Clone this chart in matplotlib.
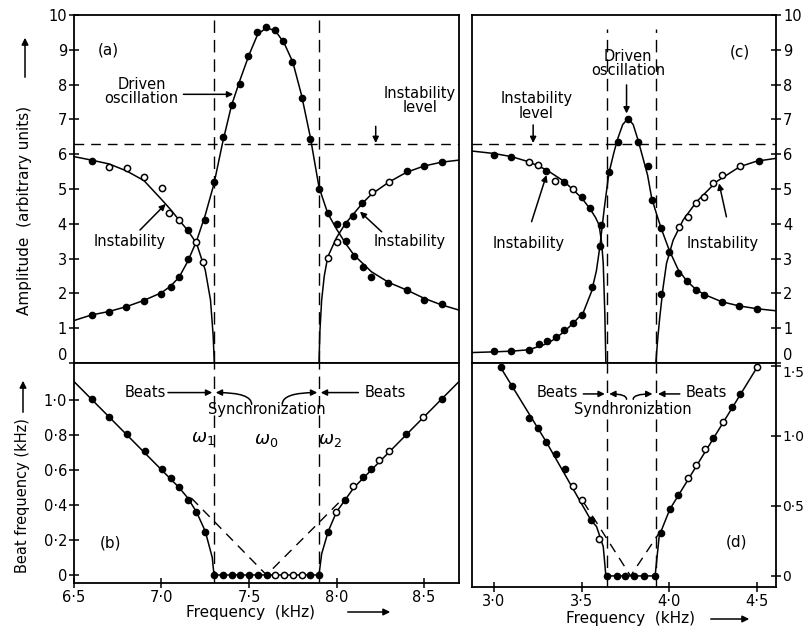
import matplotlib
matplotlib.use('Agg')
import matplotlib.pyplot as plt

plt.rcParams['font.family'] = 'DejaVu Sans'

# ---- panel (a): amplitude vs frequency (kHz) ----
a_drv_x = [6.605, 6.7, 6.8, 6.9, 7.0, 7.052, 7.098, 7.151, 7.249, 7.3, 7.35, 7.401, 7.449,
           7.496, 7.548, 7.595, 7.65, 7.696, 7.746, 7.801, 7.85, 7.902, 7.95, 8.0, 8.054,
           8.1, 8.15, 8.197, 8.296, 8.401, 8.5, 8.605]
a_drv_y = [1.38, 1.47, 1.60, 1.79, 1.98, 2.19, 2.48, 2.99, 4.11, 5.21, 6.49, 7.41, 8.02,
           8.83, 9.52, 9.65, 9.57, 9.25, 8.65, 7.62, 6.43, 5.01, 4.30, 4.0, 3.51,
           3.07, 2.77, 2.48, 2.29, 2.10, 1.81, 1.70]
a_insl_x = [6.605, 6.7, 6.805, 6.9, 7.003, 7.045, 7.1, 7.151, 7.2, 7.239]
a_insl_y = [5.81, 5.64, 5.61, 5.33, 5.02, 4.32, 4.11, 3.81, 3.49, 2.89]
a_insl_open = [False, True, True, True, True, True, True, False, True, True]
a_insr_x = [7.95, 8.005, 8.052, 8.096, 8.148, 8.2, 8.3, 8.405, 8.502, 8.605]
a_insr_y = [3.01, 3.49, 3.99, 4.22, 4.59, 4.92, 5.20, 5.51, 5.66, 5.77]
a_insr_open = [True, True, False, False, False, True, True, False, False, False]

a_drv_cx = [6.5, 6.6, 6.7, 6.8, 6.9, 7.0, 7.05, 7.1, 7.15, 7.2, 7.25, 7.3, 7.35, 7.4, 7.45,
            7.5, 7.55, 7.6, 7.65, 7.7, 7.75, 7.8, 7.85, 7.9, 7.95, 8.0, 8.05, 8.1, 8.15,
            8.2, 8.3, 8.4, 8.5, 8.6, 8.7]
a_drv_cy = [1.22, 1.38, 1.48, 1.62, 1.80, 2.02, 2.20, 2.46, 2.92, 3.50, 4.25, 5.15, 6.35,
            7.40, 8.15, 8.85, 9.45, 9.63, 9.55, 9.20, 8.65, 7.70, 6.50, 5.05, 4.30, 3.85,
            3.45, 3.10, 2.86, 2.62, 2.31, 2.10, 1.86, 1.67, 1.52]
a_insl_cx = [6.5, 6.6, 6.7, 6.8, 6.9, 7.0, 7.05, 7.1, 7.15, 7.2, 7.25, 7.28, 7.295, 7.302]
a_insl_cy = [5.93, 5.83, 5.72, 5.52, 5.24, 4.70, 4.42, 4.11, 3.81, 3.44, 2.67, 1.81, 0.8, 0.0]
a_insr_cx = [7.9, 7.905, 7.915, 7.93, 7.95, 8.0, 8.05, 8.1, 8.15, 8.2, 8.3, 8.4, 8.5, 8.6, 8.7]
a_insr_cy = [0.0, 0.9, 1.8, 2.5, 3.05, 3.6, 4.0, 4.3, 4.6, 4.85, 5.2, 5.48, 5.66, 5.77, 5.83]

# ---- panel (b): beat frequency ----
b_x = [6.601, 6.702, 6.801, 6.904, 7.003, 7.054, 7.1, 7.151, 7.197, 7.249,
       7.3, 7.35, 7.4, 7.45, 7.5, 7.55, 7.6, 7.65, 7.7, 7.75, 7.8, 7.85, 7.9,
       7.953, 7.997, 8.049, 8.092, 8.15, 8.197, 8.245, 8.298, 8.397, 8.496, 8.603]
b_y = [1.006, 0.905, 0.806, 0.707, 0.606, 0.554, 0.505, 0.43, 0.362, 0.246,
       0, 0, 0, 0, 0, 0, 0, 0, 0, 0, 0, 0, 0,
       0.248, 0.362, 0.429, 0.509, 0.562, 0.604, 0.657, 0.71, 0.806, 0.905, 1.004]
b_open = [False] * 17 + [True, True, True, True] + [False, False] + \
         [False, True, False, True, False, False, True, True, False, True, False]
b_cx = [6.5, 7.1, 7.15, 7.2, 7.25, 7.29, 7.3, 7.9, 7.915, 7.953, 8.0, 8.05, 8.1, 8.7]
b_cy = [1.105, 0.5, 0.44, 0.36, 0.25, 0.1, 0.0, 0.0, 0.12, 0.25, 0.36, 0.43, 0.5, 1.105]
b_vx = [7.17, 7.6, 8.04]
b_vy = [0.44, 0.0, 0.44]

# ---- panel (c) ----
c_drv_x = [3.0, 3.1, 3.2, 3.257, 3.304, 3.352, 3.401, 3.453, 3.504, 3.557, 3.605,
           3.656, 3.707, 3.766, 3.823, 3.877, 3.901, 3.956, 3.999, 4.051, 4.102,
           4.156, 4.2, 4.302, 4.398, 4.502]
c_drv_y = [0.35, 0.35, 0.37, 0.55, 0.64, 0.76, 0.95, 1.16, 1.38, 2.17, 3.36,
           5.5, 6.36, 7.01, 6.34, 5.66, 4.68, 3.89, 3.2, 2.58, 2.36,
           2.10, 1.95, 1.76, 1.64, 1.55]
c_insl_x = [3.0, 3.1, 3.2, 3.25, 3.3, 3.35, 3.4, 3.45, 3.5, 3.55, 3.609]
c_insl_y = [5.98, 5.91, 5.77, 5.70, 5.51, 5.24, 5.19, 5.0, 4.76, 4.44, 3.97]
c_insl_open = [False, False, True, True, False, True, False, True, False, False, False]
c_insr_x = [3.956, 4.055, 4.105, 4.152, 4.2, 4.251, 4.302, 4.407, 4.511]
c_insr_y = [1.97, 3.92, 4.19, 4.59, 4.78, 5.18, 5.40, 5.67, 5.80]
c_insr_open = [False, True, True, True, True, True, True, True, False]

c_drv_cx = [2.875, 3.0, 3.1, 3.2, 3.3, 3.35, 3.4, 3.45, 3.51, 3.557, 3.585, 3.605, 3.63,
            3.656, 3.685, 3.707, 3.735, 3.766, 3.795, 3.823, 3.85, 3.877, 3.9, 3.93,
            3.956, 4.0, 4.05, 4.1, 4.156, 4.2, 4.3, 4.4, 4.5, 4.61]
c_drv_cy = [0.30, 0.32, 0.34, 0.38, 0.55, 0.70, 0.90, 1.13, 1.45, 2.05, 2.65, 3.35, 4.45,
            5.45, 6.05, 6.45, 6.85, 7.03, 6.85, 6.40, 5.90, 5.40, 4.75, 4.25,
            3.85, 3.25, 2.70, 2.36, 2.10, 1.97, 1.76, 1.64, 1.56, 1.50]
c_insl_cx = [2.875, 3.0, 3.1, 3.2, 3.3, 3.4, 3.5, 3.55, 3.58, 3.6, 3.615, 3.624, 3.633, 3.639]
c_insl_cy = [6.09, 6.02, 5.93, 5.78, 5.55, 5.22, 4.75, 4.42, 4.18, 3.97, 3.45, 2.86, 1.43, 0.0]
c_insr_cx = [3.924, 3.935, 3.947, 3.965, 3.985, 4.023, 4.08, 4.156, 4.27, 4.403, 4.5, 4.61]
c_insr_cy = [0.0, 0.7, 1.33, 2.15, 2.86, 3.53, 4.11, 4.63, 5.21, 5.64, 5.80, 5.88]

# ---- panel (d) ----
d_x = [3.038, 3.104, 3.2, 3.249, 3.3, 3.354, 3.405, 3.449, 3.502, 3.553, 3.599,
       3.643, 3.7, 3.747, 3.8, 3.854, 3.92,
       3.951, 4.004, 4.053, 4.105, 4.152, 4.204, 4.251, 4.305, 4.356, 4.407, 4.502]
d_y = [1.49, 1.357, 1.126, 1.055, 0.955, 0.869, 0.762, 0.643, 0.543, 0.40, 0.264,
       0, 0, 0, 0, 0, 0,
       0.31, 0.476, 0.581, 0.698, 0.793, 0.905, 0.988, 1.102, 1.209, 1.30, 1.49]
d_open = [False] * 7 + [True, True, False, True] + [False] * 6 + \
         [False, False, False, True, True, True, False, True, False, False, True]
d_cx = [3.038, 3.3, 3.553, 3.586, 3.624, 3.639, 3.92, 3.943, 3.951, 4.004, 4.502]
d_cy = [1.49, 0.955, 0.40, 0.352, 0.21, 0.0, 0.0, 0.28, 0.31, 0.476, 1.49]
d_vx = [3.51, 3.78, 3.966]
d_vy = [0.53, 0.0, 0.35]

K = 'black'
LW = 1.1
FS = 10.5


def dots(ax, xs, ys, opens):
    fx = [x for x, o in zip(xs, opens) if not o]
    fy = [y for y, o in zip(ys, opens) if not o]
    ox = [x for x, o in zip(xs, opens) if o]
    oy = [y for y, o in zip(ys, opens) if o]
    ax.plot(fx, fy, 'o', color=K, ms=4.5, zorder=4)
    ax.plot(ox, oy, 'o', mfc='white', mec=K, mew=1.1, ms=4.5, zorder=4)


def arrow(ax, start, end, conn='arc3'):
    ax.annotate('', xy=end, xytext=start,
                arrowprops=dict(arrowstyle='-|>', color=K, lw=1.1,
                                mutation_scale=9, shrinkA=0, shrinkB=0,
                                connectionstyle=conn))


def style(ax):
    for s in ax.spines.values():
        s.set_linewidth(1.3)
    ax.tick_params(direction='inout', length=7, width=1.1, labelsize=10.5, pad=1.5)


fig = plt.figure(figsize=(8.06, 6.29), dpi=100)
axa = fig.add_axes([0.0918, 0.4229, 0.4777, 0.5533])
axb = fig.add_axes([0.0918, 0.0731, 0.4777, 0.3498])
axc = fig.add_axes([0.5856, 0.4229, 0.3772, 0.5533])
axd = fig.add_axes([0.5856, 0.0668, 0.3772, 0.3561])
for ax in (axa, axb, axc, axd):
    style(ax)

# (a)
axa.plot(a_drv_cx, a_drv_cy, color=K, lw=LW)
axa.plot(a_insl_cx, a_insl_cy, color=K, lw=LW)
axa.plot(a_insr_cx, a_insr_cy, color=K, lw=LW)
dots(axa, a_drv_x, a_drv_y, [False] * len(a_drv_x))
dots(axa, a_insl_x, a_insl_y, a_insl_open)
dots(axa, a_insr_x, a_insr_y, a_insr_open)
axa.axhline(6.3, color=K, lw=1.0, ls=(0, (7, 5)))
for xv in (7.3, 7.9):
    axa.axvline(xv, color=K, lw=1.0, ls=(0, (9, 5)))
axa.set_xlim(6.5, 8.7)
axa.set_ylim(0, 10)
axa.set_xticks([])
axa.set_yticks(range(11))
axa.set_yticklabels([str(i) for i in range(11)])
axa.get_yticklabels()[0].set_va('bottom')
axa.text(6.695, 8.99, '(a)', fontsize=11, ha='center', va='center')
axa.text(6.887, 7.8, 'Driven\noscillation', fontsize=FS, ha='center', va='center',
         linespacing=0.95)
arrow(axa, (7.125, 7.72), (7.41, 7.72))
axa.text(8.477, 7.55, 'Instability\nlevel', fontsize=FS, ha='center', va='center',
         linespacing=0.95)
arrow(axa, (8.224, 6.8), (8.224, 6.32))
axa.text(6.82, 3.49, 'Instability', fontsize=FS, ha='center', va='center')
arrow(axa, (6.877, 3.82), (7.024, 4.57))
axa.text(8.42, 3.48, 'Instability', fontsize=FS, ha='center', va='center')
arrow(axa, (8.258, 3.77), (8.134, 4.35))

# (b)
axb.plot(b_cx, b_cy, color=K, lw=LW)
axb.plot(b_vx, b_vy, color=K, lw=1.0, ls=(0, (7, 5)))
dots(axb, b_x, b_y, b_open)
for xv in (7.3, 7.9):
    axb.axvline(xv, color=K, lw=1.0, ls=(0, (9, 5)))
axb.set_xlim(6.5, 8.7)
axb.set_ylim(-0.046, 1.211)
axb.set_xticks([6.5, 7.0, 7.5, 8.0, 8.5])
axb.set_xticklabels(['6·5', '7·0', '7·5', '8·0', '8·5'])
axb.set_yticks([0, 0.2, 0.4, 0.6, 0.8, 1.0])
axb.set_yticklabels(['0', '0·2', '0·4', '0·6', '0·8', '1·0'])
axb.text(6.906, 1.045, 'Beats', fontsize=FS, ha='center', va='center')
arrow(axb, (7.037, 1.042), (7.29, 1.042))
arrow(axb, (7.515, 0.975), (7.31, 1.042), 'angle3,angleA=90,angleB=0')
arrow(axb, (7.69, 0.975), (7.89, 1.042), 'angle3,angleA=90,angleB=0')
axb.text(8.277, 1.045, 'Beats', fontsize=FS, ha='center', va='center')
arrow(axb, (8.125, 1.042), (7.91, 1.042))
axb.text(7.6, 0.943, 'Synchronization', fontsize=FS, ha='center', va='center')
axb.text(7.239, 0.78, r'$\omega_1$', fontsize=13, ha='center', va='center')
axb.text(7.6, 0.77, r'$\omega_0$', fontsize=13, ha='center', va='center')
axb.text(7.963, 0.77, r'$\omega_2$', fontsize=13, ha='center', va='center')
axb.text(6.706, 0.181, '(b)', fontsize=11, ha='center', va='center')

# (c)
axc.plot(c_drv_cx, c_drv_cy, color=K, lw=LW)
axc.plot(c_insl_cx, c_insl_cy, color=K, lw=LW)
axc.plot(c_insr_cx, c_insr_cy, color=K, lw=LW)
dots(axc, c_drv_x, c_drv_y, [False] * len(c_drv_x))
dots(axc, c_insl_x, c_insl_y, c_insl_open)
dots(axc, c_insr_x, c_insr_y, c_insr_open)
axc.axhline(6.3, color=K, lw=1.0, ls=(0, (7, 5)))
for xv in (3.645, 3.925):
    axc.plot([xv, xv], [0, 9.6], color=K, lw=1.0, ls=(0, (9, 5)))
axc.set_xlim(2.875, 4.61)
axc.set_ylim(0, 10)
axc.set_xticks([])
axc.yaxis.tick_right()
axc.set_yticks(range(11))
axc.set_yticklabels([str(i) for i in range(11)])
axc.get_yticklabels()[0].set_va('bottom')
axc.text(4.403, 8.95, '(c)', fontsize=11, ha='center', va='center')
axc.text(3.766, 8.6, 'Driven\noscillation', fontsize=FS, ha='center', va='center',
         linespacing=0.95)
arrow(axc, (3.757, 7.99), (3.757, 7.17))
axc.text(3.243, 7.39, 'Instability\nlevel', fontsize=FS, ha='center', va='center',
         linespacing=0.95)
arrow(axc, (3.224, 6.84), (3.224, 6.32))
axc.text(3.2, 3.44, 'Instability', fontsize=FS, ha='center', va='center')
arrow(axc, (3.215, 4.06), (3.30, 5.40))
axc.text(4.308, 3.44, 'Instability', fontsize=FS, ha='center', va='center')
arrow(axc, (4.327, 4.2), (4.285, 5.16))

# (d)
axd.plot(d_cx, d_cy, color=K, lw=LW)
axd.plot(d_vx, d_vy, color=K, lw=1.0, ls=(0, (7, 5)))
dots(axd, d_x, d_y, d_open)
for xv in (3.645, 3.925):
    axd.axvline(xv, color=K, lw=1.0, ls=(0, (9, 5)))
axd.set_xlim(2.875, 4.61)
axd.set_ylim(-0.079, 1.521)
axd.set_xticks([3.0, 3.5, 4.0, 4.5])
axd.set_xticklabels(['3·0', '3·5', '4·0', '4·5'])
axd.yaxis.tick_right()
axd.tick_params(axis='y', labelsize=10, pad=1)
axd.set_yticks([0, 0.5, 1.0, 1.5])
axd.set_yticklabels(['0', '0·5', '1·0', '1·5'])
axd.get_yticklabels()[-1].set_va('top')
axd.text(3.361, 1.31, 'Beats', fontsize=FS, ha='center', va='center')
arrow(axd, (3.51, 1.3), (3.633, 1.3))
arrow(axd, (3.757, 1.262), (3.658, 1.3), 'angle3,angleA=90,angleB=0')
arrow(axd, (3.795, 1.262), (3.905, 1.3), 'angle3,angleA=90,angleB=0')
axd.text(4.213, 1.31, 'Beats', fontsize=FS, ha='center', va='center')
arrow(axd, (4.061, 1.3), (3.937, 1.3))
axd.text(3.795, 1.186, 'Synchronization', fontsize=FS, ha='center', va='center')
axd.text(4.384, 0.245, '(d)', fontsize=11, ha='center', va='center')

# axis titles with arrows (figure coordinates)
fig.text(25 / 806, 1 - 210 / 629, 'Amplitude  (arbitrary units)', rotation=90,
         fontsize=11, ha='center', va='center')
fig.text(23 / 806, 1 - 496 / 629, 'Beat frequency (kHz)', rotation=90,
         fontsize=10.5, ha='center', va='center')
fig.text(250 / 806, 1 - 612 / 629, 'Frequency  (kHz)', fontsize=11,
         ha='center', va='center')
fig.text(630 / 806, 1 - 619 / 629, 'Frequency  (kHz)', fontsize=11,
         ha='center', va='center')
for (x0, y0, x1, y1) in [(25, 80, 25, 35), (23, 415, 23, 378),
                         (345, 612, 393, 612), (708, 619, 752, 619)]:
    fig.add_artist(matplotlib.patches.FancyArrowPatch(
        (x0 / 806, 1 - y0 / 629), (x1 / 806, 1 - y1 / 629),
        transform=fig.transFigure, arrowstyle='-|>', mutation_scale=10,
        color=K, lw=1.1))

fig.savefig('out.png', dpi=100)
